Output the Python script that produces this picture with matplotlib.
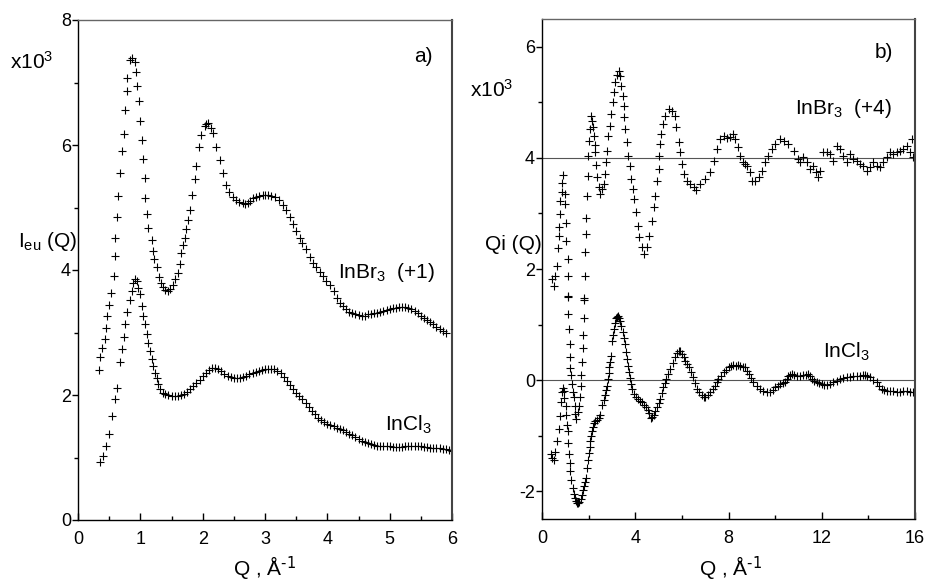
import matplotlib
matplotlib.use("Agg")
import matplotlib.pyplot as plt
from matplotlib.ticker import MultipleLocator

plt.rcParams['font.family'] = ['Liberation Sans', 'DejaVu Sans']
plt.rcParams['mathtext.default'] = 'regular'
plt.rcParams['axes.unicode_minus'] = False

# ---- panel a) : I_eu(Q), units of 10^3 ----
q_cl_a = [0.36, 0.40, 0.45, 0.50, 0.54, 0.59, 0.63, 0.68, 0.71, 0.74, 0.76, 0.79, 0.84, 0.86, 0.89,
          0.91, 0.94, 0.96, 0.99, 1.02, 1.04, 1.07, 1.10, 1.12, 1.15, 1.18, 1.20, 1.23, 1.26, 1.28,
          1.31, 1.36, 1.40, 1.45, 1.50, 1.55, 1.60, 1.65, 1.70, 1.75, 1.80, 1.85, 1.90, 1.95, 2.00,
          2.05, 2.10, 2.15, 2.20, 2.25, 2.30, 2.35, 2.40, 2.45, 2.50, 2.55, 2.60, 2.65, 2.70, 2.75,
          2.80, 2.85, 2.90, 2.95, 3.00, 3.05, 3.10, 3.15, 3.20, 3.25, 3.30, 3.35, 3.40, 3.45, 3.50,
          3.55, 3.60, 3.65, 3.70, 3.75, 3.80, 3.85, 3.90, 3.95, 4.00, 4.05, 4.10, 4.15, 4.20, 4.25,
          4.30, 4.35, 4.40, 4.45, 4.50, 4.55, 4.60, 4.65, 4.70, 4.75, 4.80, 4.85, 4.90, 4.95, 5.00,
          5.05, 5.10, 5.15, 5.20, 5.25, 5.30, 5.35, 5.40, 5.45, 5.50, 5.55, 5.60, 5.65, 5.70, 5.75,
          5.80, 5.85, 5.90, 5.95, 6.00]
i_cl_a = [0.93, 1.03, 1.18, 1.38, 1.66, 1.94, 2.12, 2.53, 2.73, 2.93, 3.13, 3.33, 3.52, 3.66, 3.80,
          3.85, 3.82, 3.72, 3.61, 3.42, 3.26, 3.13, 2.98, 2.84, 2.71, 2.57, 2.47, 2.36, 2.28, 2.18,
          2.10, 2.04, 2.02, 2.00, 1.99, 1.99, 1.99, 2.00, 2.02, 2.05, 2.09, 2.14, 2.19, 2.24, 2.30,
          2.36, 2.40, 2.43, 2.44, 2.42, 2.38, 2.34, 2.31, 2.29, 2.28, 2.28, 2.28, 2.29, 2.31, 2.33,
          2.35, 2.37, 2.39, 2.40, 2.41, 2.42, 2.42, 2.42, 2.39, 2.35, 2.29, 2.23, 2.16, 2.09, 2.03,
          1.98, 1.93, 1.87, 1.81, 1.75, 1.69, 1.64, 1.60, 1.57, 1.54, 1.52, 1.50, 1.48, 1.46, 1.44,
          1.41, 1.38, 1.36, 1.33, 1.30, 1.27, 1.25, 1.23, 1.21, 1.20, 1.19, 1.18, 1.18, 1.18, 1.18,
          1.17, 1.17, 1.17, 1.17, 1.18, 1.18, 1.19, 1.19, 1.18, 1.18, 1.17, 1.17, 1.16, 1.16, 1.15,
          1.15, 1.14, 1.13, 1.12, 1.11]

q_br_a = [0.33, 0.36, 0.39, 0.43, 0.45, 0.47, 0.49, 0.53, 0.57, 0.59, 0.60, 0.62, 0.64, 0.68, 0.70,
          0.73, 0.75, 0.78, 0.79, 0.84, 0.87, 0.91, 0.93, 0.94, 0.98, 1.00, 1.03, 1.04, 1.07, 1.08,
          1.11, 1.13, 1.18, 1.20, 1.22, 1.26, 1.30, 1.33, 1.36, 1.40, 1.44, 1.48, 1.52, 1.56, 1.60,
          1.63, 1.66, 1.69, 1.71, 1.74, 1.76, 1.80, 1.83, 1.87, 1.90, 1.94, 1.98, 2.03, 2.06, 2.09,
          2.13, 2.17, 2.22, 2.28, 2.33, 2.38, 2.43, 2.49, 2.54, 2.59, 2.64, 2.68, 2.72, 2.76, 2.81,
          2.86, 2.91, 2.96, 3.00, 3.05, 3.10, 3.16, 3.22, 3.29, 3.34, 3.40, 3.45, 3.50, 3.56, 3.60,
          3.65, 3.72, 3.77, 3.82, 3.88, 3.93, 3.98, 4.04, 4.10, 4.15, 4.20, 4.25, 4.30, 4.35, 4.40,
          4.45, 4.50, 4.55, 4.60, 4.65, 4.70, 4.75, 4.80, 4.85, 4.90, 4.95, 5.00, 5.05, 5.10, 5.15,
          5.20, 5.25, 5.30, 5.35, 5.40, 5.45, 5.50, 5.55, 5.60, 5.65, 5.70, 5.75, 5.80, 5.85, 5.90]
i_br_a = [2.40, 2.61, 2.76, 2.89, 3.08, 3.26, 3.44, 3.64, 3.91, 4.23, 4.51, 4.85, 5.18, 5.56, 5.91,
          6.18, 6.56, 6.87, 7.08, 7.36, 7.40, 7.33, 7.17, 6.94, 6.71, 6.38, 6.08, 5.77, 5.47, 5.16,
          4.90, 4.67, 4.48, 4.31, 4.17, 4.05, 3.89, 3.80, 3.73, 3.68, 3.66, 3.70, 3.76, 3.85, 3.95,
          4.10, 4.27, 4.40, 4.51, 4.66, 4.80, 4.96, 5.20, 5.45, 5.67, 5.97, 6.16, 6.30, 6.34, 6.35,
          6.28, 6.19, 5.97, 5.76, 5.55, 5.36, 5.25, 5.17, 5.12, 5.09, 5.07, 5.06, 5.08, 5.11, 5.15,
          5.17, 5.19, 5.20, 5.20, 5.20, 5.19, 5.17, 5.12, 5.04, 4.96, 4.85, 4.74, 4.63, 4.51, 4.43,
          4.34, 4.21, 4.12, 4.05, 3.97, 3.90, 3.83, 3.76, 3.66, 3.56, 3.48, 3.42, 3.37, 3.33, 3.31,
          3.30, 3.28, 3.26, 3.27, 3.29, 3.30, 3.31, 3.32, 3.33, 3.35, 3.36, 3.37, 3.39, 3.40, 3.41,
          3.41, 3.41, 3.39, 3.37, 3.34, 3.31, 3.27, 3.23, 3.20, 3.17, 3.13, 3.09, 3.06, 3.03, 3.00]

# ---- panel b) : Qi(Q), units of 10^3 ----
q_cl_b = [0.40, 0.45, 0.50, 0.57, 0.64, 0.71, 0.79, 0.83, 0.86, 0.90, 0.93, 0.96, 1.02, 1.04, 1.07,
          1.10, 1.12, 1.14, 1.19, 1.21, 1.26, 1.31, 1.36, 1.40, 1.45, 1.50, 1.55, 1.60, 1.66, 1.71,
          1.75, 1.79, 1.84, 1.89, 1.93, 1.97, 2.00, 2.04, 2.07, 2.10, 2.14, 2.18, 2.21, 2.29, 2.36,
          2.43, 2.50, 2.57, 2.64, 2.71, 2.75, 2.79, 2.83, 2.86, 2.89, 2.93, 2.96, 3.01, 3.04, 3.07,
          3.12, 3.17, 3.21, 3.26, 3.31, 3.36, 3.41, 3.46, 3.50, 3.54, 3.59, 3.64, 3.69, 3.74, 3.79,
          3.83, 3.88, 3.93, 4.02, 4.11, 4.20, 4.29, 4.38, 4.46, 4.53, 4.60, 4.67, 4.73, 4.79, 4.86,
          4.93, 5.00, 5.07, 5.14, 5.21, 5.27, 5.33, 5.41, 5.50, 5.60, 5.71, 5.79, 5.86, 5.93, 6.00,
          6.07, 6.14, 6.21, 6.29, 6.37, 6.46, 6.55, 6.64, 6.75, 6.86, 6.93, 7.00, 7.10, 7.21, 7.32,
          7.43, 7.50, 7.57, 7.68, 7.79, 7.90, 8.00, 8.10, 8.21, 8.32, 8.40, 8.50, 8.61, 8.71, 8.79,
          8.86, 8.96, 9.07, 9.21, 9.36, 9.50, 9.64, 9.79, 9.90, 10.00, 10.11, 10.21, 10.32, 10.43, 10.50,
          10.57, 10.64, 10.71, 10.82, 10.93, 11.07, 11.21, 11.32, 11.43, 11.50, 11.57, 11.68, 11.79, 11.90, 12.00,
          12.11, 12.21, 12.36, 12.50, 12.64, 12.79, 12.93, 13.07, 13.21, 13.36, 13.50, 13.64, 13.75, 13.86, 13.96,
          14.07, 14.21, 14.36, 14.46, 14.57, 14.68, 14.79, 14.93, 15.07, 15.21, 15.36, 15.50, 15.64, 15.79, 15.93]
i_cl_b = [-1.33, -1.40, -1.44, -1.30, -1.10, -0.88, -0.64, -0.40, -0.22, -0.14, -0.20, -0.32, -0.47, -0.62, -0.80,
          -0.92, -1.14, -1.33, -1.49, -1.63, -1.79, -1.95, -2.05, -2.12, -2.18, -2.21, -2.21, -2.20, -2.14, -2.06,
          -1.98, -1.91, -1.84, -1.76, -1.58, -1.44, -1.31, -1.20, -1.10, -1.01, -0.92, -0.84, -0.77, -0.74, -0.72,
          -0.68, -0.62, -0.44, -0.35, -0.26, -0.18, -0.11, 0.02, 0.12, 0.23, 0.33, 0.44, 0.71, 0.82, 0.92,
          1.02, 1.11, 1.14, 1.15, 1.12, 1.07, 0.97, 0.86, 0.76, 0.65, 0.51, 0.38, 0.26, 0.14, 0.03,
          -0.07, -0.16, -0.25, -0.30, -0.34, -0.37, -0.40, -0.44, -0.49, -0.54, -0.60, -0.68, -0.66, -0.62, -0.56,
          -0.49, -0.42, -0.34, -0.24, -0.13, -0.05, 0.02, 0.11, 0.20, 0.31, 0.41, 0.48, 0.53, 0.52, 0.47,
          0.41, 0.35, 0.29, 0.23, 0.14, 0.05, -0.06, -0.16, -0.22, -0.27, -0.30, -0.31, -0.27, -0.22, -0.16,
          -0.10, -0.04, 0.02, 0.08, 0.14, 0.19, 0.23, 0.26, 0.27, 0.25, 0.27, 0.25, 0.24, 0.23, 0.17,
          0.11, 0.04, -0.04, -0.10, -0.16, -0.19, -0.21, -0.22, -0.18, -0.13, -0.10, -0.07, -0.05, -0.04, 0.02,
          0.08, 0.10, 0.11, 0.09, 0.08, 0.08, 0.09, 0.10, 0.11, 0.07, 0.02, -0.01, -0.04, -0.06, -0.07,
          -0.08, -0.09, -0.07, -0.04, -0.01, 0.02, 0.04, 0.05, 0.06, 0.08, 0.08, 0.08, 0.09, 0.09, 0.07,
          0.05, 0.01, -0.04, -0.10, -0.16, -0.18, -0.19, -0.19, -0.19, -0.21, -0.22, -0.20, -0.19, -0.21, -0.22]

q_br_b = [0.43, 0.50, 0.57, 0.64, 0.69, 0.71, 0.74, 0.79, 0.79, 0.86, 0.86, 0.90, 0.97, 1.00, 1.04,
          1.04, 1.10, 1.10, 1.10, 1.10, 1.11, 1.14, 1.19, 1.21, 1.21, 1.26, 1.29, 1.31, 1.36, 1.40,
          1.43, 1.47, 1.53, 1.57, 1.61, 1.67, 1.69, 1.71, 1.74, 1.76, 1.79, 1.79, 1.81, 1.86, 1.86,
          1.89, 1.90, 1.93, 1.96, 1.97, 2.00, 2.04, 2.10, 2.14, 2.19, 2.21, 2.26, 2.29, 2.33, 2.36,
          2.43, 2.50, 2.57, 2.64, 2.69, 2.74, 2.79, 2.83, 2.90, 2.97, 3.03, 3.07, 3.14, 3.21, 3.29,
          3.36, 3.40, 3.46, 3.50, 3.53, 3.57, 3.64, 3.71, 3.79, 3.83, 3.89, 3.96, 4.04, 4.10, 4.17,
          4.29, 4.39, 4.50, 4.61, 4.71, 4.79, 4.86, 4.93, 5.00, 5.04, 5.07, 5.11, 5.21, 5.29, 5.43,
          5.57, 5.69, 5.76, 5.86, 5.93, 6.00, 6.10, 6.21, 6.36, 6.50, 6.61, 6.79, 7.00, 7.19, 7.36,
          7.50, 7.64, 7.79, 7.93, 8.07, 8.19, 8.29, 8.39, 8.50, 8.61, 8.71, 8.81, 8.93, 9.00, 9.14,
          9.29, 9.43, 9.57, 9.71, 9.86, 10.00, 10.21, 10.36, 10.57, 10.79, 10.96, 11.07, 11.21, 11.36, 11.50,
          11.64, 11.76, 11.83, 11.93, 12.07, 12.21, 12.36, 12.50, 12.64, 12.79, 12.93, 13.07, 13.21, 13.36, 13.50,
          13.64, 13.79, 13.93, 14.07, 14.21, 14.36, 14.50, 14.64, 14.79, 14.93, 15.07, 15.21, 15.36, 15.50, 15.64,
          15.79, 15.86, 15.93]
i_br_b = [1.82, 1.70, 1.88, 2.06, 2.37, 2.59, 2.75, 2.99, 3.23, 3.38, 3.55, 3.70, 3.35, 3.17, 2.83,
          2.51, 2.18, 1.87, 1.52, 1.49, 1.19, 0.92, 0.65, 0.42, 0.21, 0.10, -0.07, -0.22, -0.31, -0.46,
          -0.61, -0.70, -0.58, -0.46, -0.31, -0.10, 0.10, 0.32, 0.57, 0.81, 1.11, 1.44, 1.48, 1.88, 2.30,
          2.63, 2.92, 3.32, 3.67, 4.04, 4.31, 4.52, 4.76, 4.67, 4.55, 4.39, 4.24, 4.10, 3.88, 3.65,
          3.47, 3.35, 3.44, 3.53, 3.71, 3.92, 4.13, 4.40, 4.58, 4.79, 5.00, 5.18, 5.36, 5.49, 5.57,
          5.48, 5.30, 5.12, 4.94, 4.73, 4.52, 4.28, 4.04, 3.86, 3.62, 3.44, 3.26, 3.02, 2.78, 2.57,
          2.39, 2.27, 2.39, 2.60, 2.87, 3.11, 3.32, 3.59, 3.80, 4.04, 4.25, 4.43, 4.61, 4.76, 4.88,
          4.85, 4.76, 4.55, 4.28, 4.10, 3.89, 3.71, 3.59, 3.53, 3.47, 3.43, 3.53, 3.62, 3.74, 3.95,
          4.16, 4.34, 4.40, 4.35, 4.37, 4.43, 4.34, 4.19, 4.04, 3.92, 3.89, 3.86, 3.74, 3.59, 3.59,
          3.65, 3.77, 3.92, 4.04, 4.16, 4.25, 4.34, 4.31, 4.25, 4.13, 3.98, 3.92, 4.01, 3.92, 3.80,
          3.86, 3.74, 3.65, 3.77, 4.10, 4.10, 4.07, 3.95, 4.22, 4.16, 4.04, 3.92, 4.07, 3.98, 3.95,
          3.89, 3.86, 3.77, 3.83, 3.92, 3.86, 3.83, 3.92, 4.01, 4.10, 4.07, 4.10, 4.13, 4.16, 4.22,
          4.10, 4.34, 4.01]

fig = plt.figure(figsize=(9.26, 5.86), dpi=100)
ax1 = fig.add_axes([78 / 926, 1 - 520 / 586, 374 / 926, 500 / 586])
ax2 = fig.add_axes([542 / 926, 1 - 519 / 586, 373 / 926, 500 / 586])

ax1.plot(q_br_a, i_br_a, '+', color='black', ms=6, mew=0.8)
ax1.plot(q_cl_a, i_cl_a, '+', color='black', ms=6, mew=0.8)
ax1.set_xlim(0, 6)
ax1.set_ylim(0, 8)
ax1.xaxis.set_major_locator(MultipleLocator(1))
ax1.xaxis.set_minor_locator(MultipleLocator(0.5))
ax1.yaxis.set_major_locator(MultipleLocator(2))
ax1.yaxis.set_minor_locator(MultipleLocator(1))

ax2.axhline(4, color='#555555', lw=0.8, zorder=1)
ax2.axhline(0, color='#555555', lw=0.8, zorder=1)
ax2.plot(q_br_b, i_br_b, '+', color='black', ms=6, mew=0.8)
ax2.plot(q_cl_b, i_cl_b, '+', color='black', ms=6, mew=0.8)
ax2.set_xlim(0, 16)
ax2.set_ylim(-2.5, 6.5)
ax2.xaxis.set_major_locator(MultipleLocator(4))
ax2.xaxis.set_minor_locator(MultipleLocator(2))
ax2.yaxis.set_major_locator(MultipleLocator(2))
ax2.yaxis.set_minor_locator(MultipleLocator(1))

for ax in (ax1, ax2):
    ax.tick_params(axis='x', which='major', direction='in', length=5, width=1, labelsize=13, pad=8)
    ax.tick_params(axis='x', which='minor', direction='in', length=3, width=1)
    ax.tick_params(axis='y', which='major', direction='out', length=4, width=1, labelsize=13, pad=1)
    ax.tick_params(axis='y', which='minor', direction='out', length=3, width=1)
    for s in ax.spines.values():
        s.set_linewidth(1)
    ax.spines['top'].set_color('#666666')
    ax.spines['right'].set_color('#444444')
    ax.spines['right'].set_linewidth(1.5)

def px(x, y):
    return x / 926, 1 - y / 586

fs = 15
fig.text(*px(10, 62), 'x10$^3$', fontsize=fs, va='center')
fig.text(*px(18, 242), 'I$_{eu}$ (Q)', fontsize=fs, va='center')
fig.text(*px(433, 57), 'a)', fontsize=fs, va='center', ha='right')
fig.text(*px(338, 272), 'InBr$_3$  (+1)', fontsize=fs, va='center')
fig.text(*px(385, 425), 'InCl$_3$', fontsize=fs, va='center')
fig.text(*px(264, 569), 'Q , Å$^{\\text{-1}}$', fontsize=fs, va='center', ha='center')

fig.text(*px(893, 52), 'b)', fontsize=fs, va='center', ha='right')
fig.text(*px(470, 90), 'x10$^3$', fontsize=fs, va='center')
fig.text(*px(485, 245), 'Qi (Q)', fontsize=fs, va='center')
fig.text(*px(795, 108), 'InBr$_3$  (+4)', fontsize=fs, va='center')
fig.text(*px(823, 352), 'InCl$_3$', fontsize=fs, va='center')
fig.text(*px(730, 569), 'Q , Å$^{\\text{-1}}$', fontsize=fs, va='center', ha='center')

fig.savefig('out.png', dpi=100)
